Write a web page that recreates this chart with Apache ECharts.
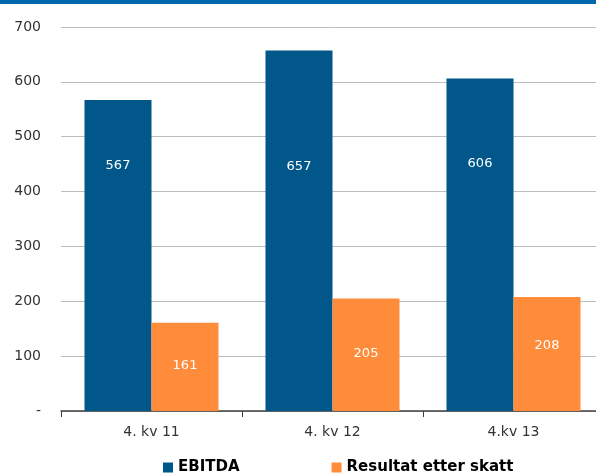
<!DOCTYPE html>
<html><head><meta charset="utf-8">
<script src="https://cdn.jsdelivr.net/npm/echarts@6/dist/echarts.min.js"></script>
<style>html,body{margin:0;padding:0;background:#fff;overflow:hidden}#c{width:604px;height:474px}</style>
</head><body><div id="c"></div>
<script>
const categories = ['4. kv 11', '4. kv 12', '4.kv 13'];
const ebitda = [567, 657, 606];
const resultat = [161, 205, 208];
const yTicks = [0, 100, 200, 300, 400, 500, 600, 700];
const seriesNames = ['EBITDA', 'Resultat etter skatt'];
// label offsets from bar top (style only)
const ebitdaLabelOffset = [66, 116, 85];
const resultatLabelOffset = [43, 55, 49];

const font = 'DejaVu Sans';
function items(vals, offs){
  return vals.map((v,i)=>({value:v,label:{position:['50%', offs[i]]}}));
}
const chart = echarts.init(document.getElementById('c'));
chart.setOption({
  animation:false,
  graphic:[{type:'rect',left:0,top:0,shape:{width:604,height:4},style:{fill:'#0067ac'}}],
  grid:{left:61,right:0,top:27,bottom:63},
  legend:{
    bottom:-6,left:158,itemWidth:10,itemHeight:10,itemGap:92,icon:'rect',
    textStyle:{fontFamily:font,fontSize:15,color:'#000',fontWeight:'bold'},
    data:seriesNames
  },
  xAxis:{
    type:'category',data:categories,
    axisLine:{lineStyle:{color:'#404040',width:1.5}},
    axisTick:{show:true,length:6,lineStyle:{color:'#404040'}},
    axisLabel:{fontFamily:font,fontSize:14,color:'#333',margin:14}
  },
  yAxis:{
    type:'value',min:0,max:700,interval:100,
    axisLine:{show:false},axisTick:{show:false},
    splitLine:{lineStyle:{color:'#bdbdbd',width:1}},
    axisLabel:{fontFamily:font,fontSize:14,color:'#333',margin:20,
      formatter:v=>v===0?'-':String(yTicks[yTicks.indexOf(v)])}
  },
  series:[
    {name:seriesNames[0],type:'bar',data:items(ebitda,ebitdaLabelOffset),barWidth:67,barGap:'0%',
     itemStyle:{color:'#01578a'},
     label:{show:true,color:'#fff',fontFamily:font,fontSize:13,align:'center',verticalAlign:'middle'}},
    {name:seriesNames[1],type:'bar',data:items(resultat,resultatLabelOffset),barWidth:67,
     itemStyle:{color:'#ff8c3a'},
     label:{show:true,color:'#fff',fontFamily:font,fontSize:13,align:'center',verticalAlign:'middle'}}
  ]
});
</script></body></html>
